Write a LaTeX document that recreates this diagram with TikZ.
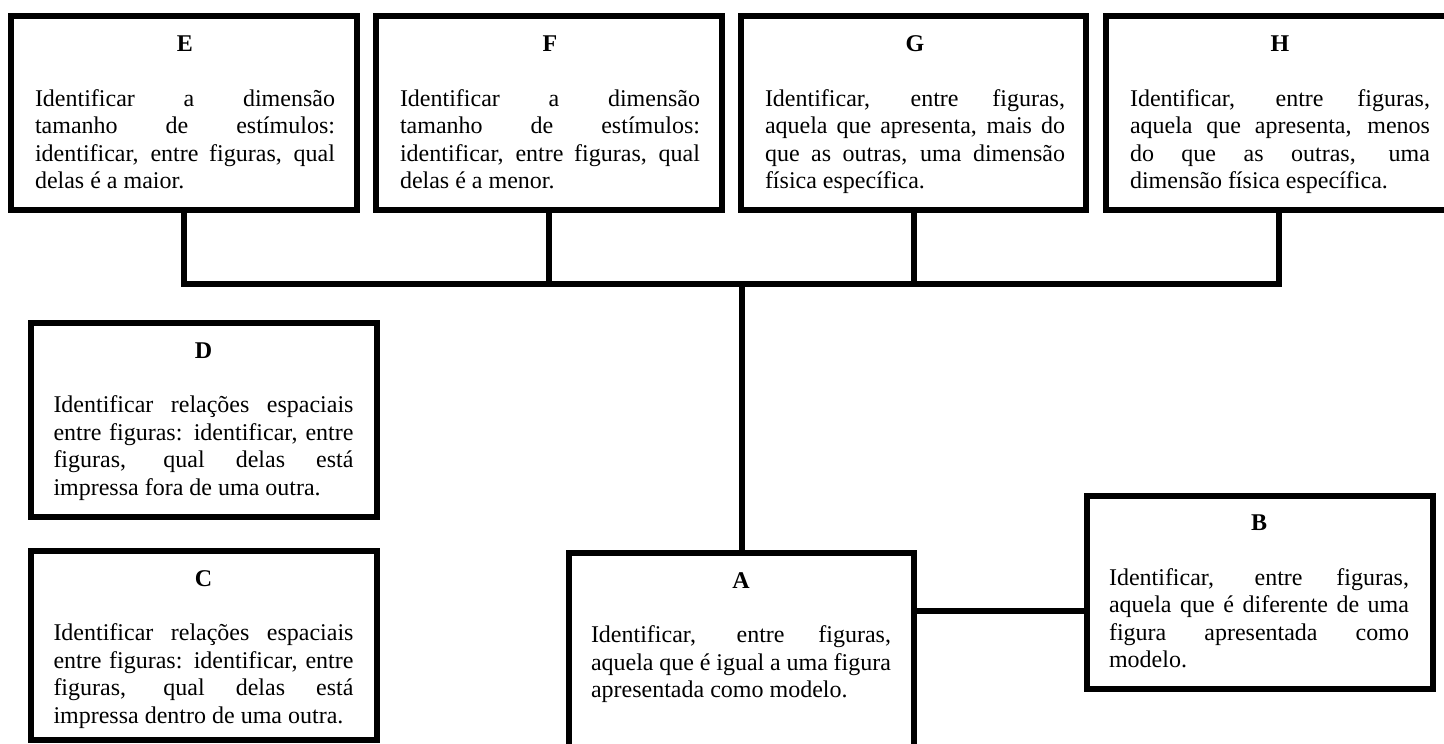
\documentclass[tikz,border=0pt]{standalone}
\usepackage{fontspec}
\setmainfont{Liberation Serif}
\newcommand{\boxtext}[2]{\parbox[t]{300pt}{\fontsize{24pt}{27.4pt}\selectfont
  \tolerance=10000 \hbadness=10000 \hyphenpenalty=10000 \exhyphenpenalty=10000
  \centerline{\bfseries #1}\par\vskip 27.4pt #2\par}}
\begin{document}
\begin{tikzpicture}[x=1pt,y=-1pt,
  box/.style={draw, line width=6pt, inner sep=0pt, outer sep=0pt, anchor=north west},
  txt/.style={inner sep=0pt, outer sep=0pt, anchor=base west},
  link/.style={draw, line width=6pt}]
\useasboundingbox (0,0) rectangle (1444,744);
\clip (0,0) rectangle (1444,744);
% boxes
\node[box, minimum width=346pt, minimum height=194pt] (E) at (11,15.5) {};
\node[box, minimum width=346pt, minimum height=194pt] (F) at (376,15.5) {};
\node[box, minimum width=345pt, minimum height=194pt] (G) at (741,15.5) {};
\node[box, minimum width=346pt, minimum height=194pt] (H) at (1106,15.5) {};
\node[box, minimum width=346pt, minimum height=194.5pt] (D) at (30.5,322.5) {};
\node[box, minimum width=346pt, minimum height=189.5pt] (C) at (30.5,550.5) {};
\node[box, minimum width=345pt, minimum height=230pt] (A) at (569,553) {};
\node[box, minimum width=346pt, minimum height=192.5pt] (B) at (1087,496) {};
% texts
\node[txt] (Et) at ([xshift=24pt,yshift=-36pt]E.north west) {\boxtext{E}{Identificar a dimensão\linebreak tamanho de estímulos:\linebreak identificar, entre figuras, qual\linebreak delas é a maior.}};
\node[txt] (Ft) at ([xshift=24pt,yshift=-36pt]F.north west) {\boxtext{F}{Identificar a dimensão\linebreak tamanho de estímulos:\linebreak identificar, entre figuras, qual\linebreak delas é a menor.}};
\node[txt] (Gt) at ([xshift=24pt,yshift=-36pt]G.north west) {\boxtext{G}{Identificar, entre figuras,\linebreak aquela que apresenta, mais do\linebreak que as outras, uma dimensão\linebreak física específica.}};
\node[txt] (Ht) at ([xshift=24pt,yshift=-36pt]H.north west) {\boxtext{H}{Identificar, entre figuras,\linebreak aquela que apresenta, menos\linebreak do que as outras, uma\linebreak dimensão física específica.}};
\node[txt] (Dt) at ([xshift=23pt,yshift=-35.5pt]D.north west) {\boxtext{D}{Identificar relações espaciais\linebreak entre figuras: identificar, entre\linebreak figuras, qual delas está\linebreak impressa fora de uma outra.}};
\node[txt] (Ct) at ([xshift=23pt,yshift=-35.5pt]C.north west) {\boxtext{C}{Identificar relações espaciais\linebreak entre figuras: identificar, entre\linebreak figuras, qual delas está\linebreak impressa dentro de uma outra.}};
\node[txt] (At) at ([xshift=22pt,yshift=-35pt]A.north west) {\boxtext{A}{Identificar, entre figuras,\linebreak aquela que é igual a uma figura\linebreak apresentada como modelo.}};
\node[txt] (Bt) at ([xshift=22pt,yshift=-34.5pt]B.north west) {\boxtext{B}{Identificar, entre figuras,\linebreak aquela que é diferente de uma\linebreak figura apresentada como\linebreak modelo.}};
% connectors
\coordinate (bus) at (0,283.5);
\coordinate (ab) at (0,610.5);
\draw[link] (E.south) |- (H.south |- bus) -- (H.south);
\draw[link] (F.south) -- (F.south |- bus);
\draw[link] (G.south) -- (G.south |- bus);
\draw[link] (A.north) -- (A.north |- bus);
\draw[link] (A.east |- ab) -- (B.west |- ab);
\end{tikzpicture}
\end{document}
